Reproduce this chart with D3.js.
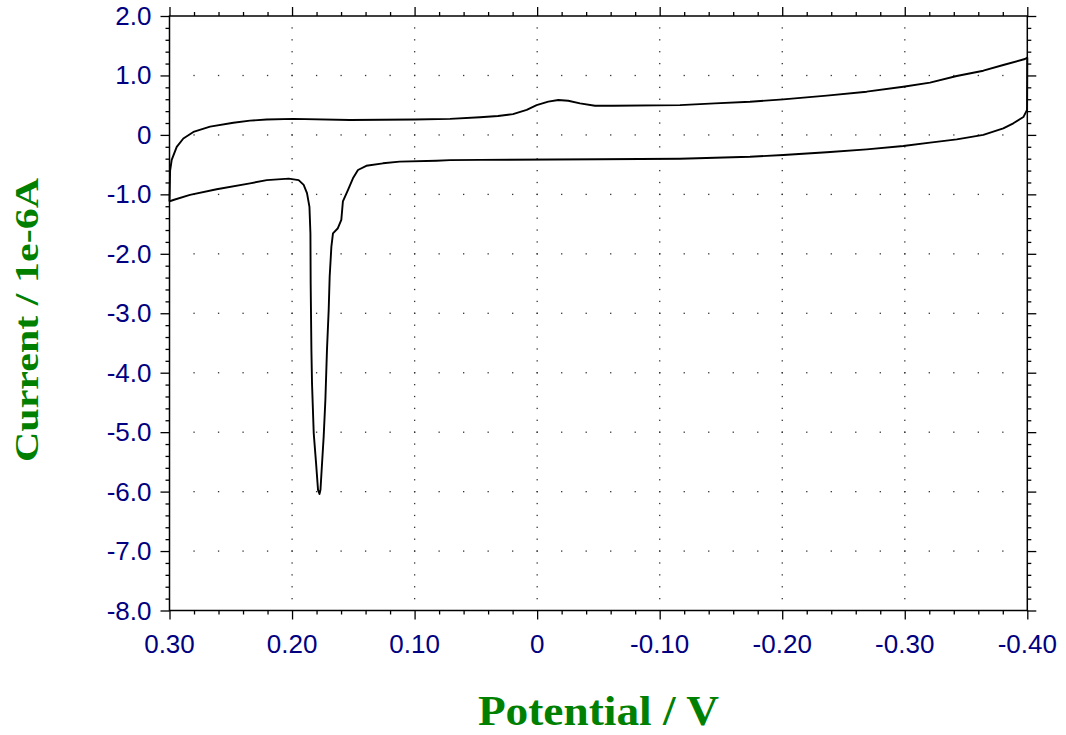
<!DOCTYPE html>
<html>
<head>
<meta charset="utf-8">
<script src="https://cdn.jsdelivr.net/npm/d3@7"></script>
<style>
  body { margin: 0; background: #fff; }
</style>
</head>
<body>
<div id="chart"></div>
<script>
// forward scan (0.30 V -> -0.40 V), [potential V, current 1e-6 A]
const forwardScan = [
  [0.3000, -1.12], [0.2995, -0.60], [0.2982, -0.42], [0.2941, -0.20],
  [0.2887, -0.06], [0.2805, 0.05], [0.2669, 0.14], [0.2479, 0.205],
  [0.2343, 0.24], [0.2207, 0.26], [0.1990, 0.27], [0.1527, 0.25],
  [0.1000, 0.26], [0.0711, 0.27], [0.0466, 0.296], [0.0319, 0.318],
  [0.0197, 0.35], [0.0085, 0.42], [0.0004, 0.50], [-0.0091, 0.56],
  [-0.0173, 0.587], [-0.0254, 0.575], [-0.0350, 0.53], [-0.0472, 0.49],
  [-0.0619, 0.49], [-0.1166, 0.50], [-0.1450, 0.53], [-0.1737, 0.558],
  [-0.2009, 0.598], [-0.2363, 0.66], [-0.2689, 0.727], [-0.2988, 0.81],
  [-0.3206, 0.88], [-0.3424, 0.99], [-0.3641, 1.08], [-0.3804, 1.176],
  [-0.3981, 1.277], [-0.4000, 1.30]
];

// reverse scan (-0.40 V -> 0.30 V) with the reduction peak
const reverseScan = [
  [-0.4000, 1.30], [-0.3998, 0.42], [-0.3968, 0.30], [-0.3886, 0.195],
  [-0.3804, 0.11], [-0.3641, 0.00], [-0.3424, -0.075], [-0.3206, -0.13],
  [-0.2988, -0.187], [-0.2690, -0.243], [-0.2363, -0.293], [-0.2009, -0.338],
  [-0.1737, -0.367], [-0.1166, -0.40], [-0.0511, -0.41], [0.0466, -0.42],
  [0.0711, -0.425], [0.0822, -0.434], [0.1122, -0.45], [0.1258, -0.478],
  [0.1394, -0.52], [0.1462, -0.59], [0.1503, -0.73], [0.1544, -0.93],
  [0.1585, -1.12], [0.1598, -1.43], [0.1626, -1.57], [0.1666, -1.655],
  [0.1679, -1.88], [0.1693, -2.385], [0.1701, -2.945], [0.1715, -3.62],
  [0.1728, -4.46], [0.1742, -5.08], [0.1755, -5.52], [0.1768, -5.97],
  [0.1776, -6.04], [0.1788, -5.97], [0.1804, -5.52], [0.1823, -5.02],
  [0.1837, -4.18], [0.1842, -3.62], [0.1848, -2.50], [0.1850, -1.655],
  [0.1858, -1.21], [0.1878, -0.98], [0.1905, -0.84], [0.1946, -0.76],
  [0.2027, -0.735], [0.2206, -0.76], [0.2343, -0.815], [0.2615, -0.915],
  [0.2833, -1.01], [0.2969, -1.095], [0.3000, -1.12]
];

const xTicks = [0.3, 0.2, 0.1, 0, -0.1, -0.2, -0.3, -0.4];
const xTickLabels = ["0.30", "0.20", "0.10", "0", "-0.10", "-0.20", "-0.30", "-0.40"];
const yTicks = [2, 1, 0, -1, -2, -3, -4, -5, -6, -7, -8];
const yTickLabels = ["2.0", "1.0", "0", "-1.0", "-2.0", "-3.0", "-4.0", "-5.0", "-6.0", "-7.0", "-8.0"];

const width = 1066, height = 735;
const plotLeft = 169.5, plotRight = 1027.3, plotTop = 16, plotBottom = 610.5;

const svg = d3
  .select("#chart")
  .append("svg")
  .attr("width", width)
  .attr("height", height);

// potential axis runs from positive to negative
const xScale = d3.scaleLinear().domain([0.3, -0.4]).range([plotLeft, plotRight]);
const yScale = d3.scaleLinear().domain([-8, 2]).range([plotBottom, plotTop]);

// minor tick positions
const xMinor = d3.range(0, 36).map((i) => +(0.3 - i * 0.02).toFixed(2));
const yMinor = d3.range(0, 51).map((i) => +(2 - i * 0.2).toFixed(1));

// dotted grid: dots at minor positions along each inner major line
const grid = svg.append("g").attr("fill", "#333");
xTicks.slice(1, -1).forEach((xv) => {
  grid
    .selectAll(null)
    .data(yMinor.slice(1, -1))
    .enter()
    .append("rect")
    .attr("x", xScale(xv) - 0.6)
    .attr("y", (d) => yScale(d) - 0.6)
    .attr("width", 1.3)
    .attr("height", 1.3);
});
yTicks.slice(1, -1).forEach((yv) => {
  grid
    .selectAll(null)
    .data(xMinor.slice(1, -1))
    .enter()
    .append("rect")
    .attr("x", (d) => xScale(d) - 0.6)
    .attr("y", yScale(yv) - 0.6)
    .attr("width", 1.3)
    .attr("height", 1.3);
});

// axes on all four sides, ticks pointing out
const axisStyle = (g) => {
  g.select(".domain").remove();
  g.selectAll("line").attr("stroke", "#000").attr("stroke-width", 1.3);
};
const minorOnly = (arr, major) => arr.filter((v) => !major.some((m) => Math.abs(m - v) < 1e-9));

[
  [d3.axisBottom, plotBottom],
  [d3.axisTop, plotTop],
].forEach(([ax, pos]) => {
  svg.append("g")
    .attr("transform", `translate(0,${pos})`)
    .call(ax(xScale).tickValues(xTicks).tickSize(9).tickFormat(""))
    .call(axisStyle);
  svg.append("g")
    .attr("transform", `translate(0,${pos})`)
    .call(ax(xScale).tickValues(minorOnly(xMinor, xTicks)).tickSize(4).tickFormat(""))
    .call(axisStyle);
});
[
  [d3.axisLeft, plotLeft],
  [d3.axisRight, plotRight],
].forEach(([ax, pos]) => {
  svg.append("g")
    .attr("transform", `translate(${pos},0)`)
    .call(ax(yScale).tickValues(yTicks).tickSize(9).tickFormat(""))
    .call(axisStyle);
  svg.append("g")
    .attr("transform", `translate(${pos},0)`)
    .call(ax(yScale).tickValues(minorOnly(yMinor, yTicks)).tickSize(4).tickFormat(""))
    .call(axisStyle);
});

// frame
svg
  .append("rect")
  .attr("x", plotLeft)
  .attr("y", plotTop)
  .attr("width", plotRight - plotLeft)
  .attr("height", plotBottom - plotTop)
  .attr("fill", "none")
  .attr("stroke", "#000")
  .attr("stroke-width", 1.5);

// tick labels
svg
  .selectAll(".x-label")
  .data(xTicks)
  .enter()
  .append("text")
  .attr("class", "x-label")
  .attr("x", (d) => xScale(d))
  .attr("y", plotBottom + 42)
  .attr("text-anchor", "middle")
  .attr("font-family", "Liberation Sans, Arial, sans-serif")
  .attr("font-size", 26)
  .attr("fill", "#000080")
  .text((d, i) => xTickLabels[i]);

svg
  .selectAll(".y-label")
  .data(yTicks)
  .enter()
  .append("text")
  .attr("class", "y-label")
  .attr("x", plotLeft - 18)
  .attr("y", (d) => yScale(d) + 9)
  .attr("text-anchor", "end")
  .attr("font-family", "Liberation Sans, Arial, sans-serif")
  .attr("font-size", 26)
  .attr("fill", "#000080")
  .text((d, i) => yTickLabels[i]);

// the voltammogram
const line = d3
  .line()
  .x((d) => xScale(d[0]))
  .y((d) => yScale(d[1]));

[forwardScan, reverseScan].forEach((scan) => {
  svg
    .append("path")
    .datum(scan)
    .attr("d", line)
    .attr("fill", "none")
    .attr("stroke", "#000")
    .attr("stroke-width", 1.9)
    .attr("stroke-linejoin", "round");
});

// axis titles
svg
  .append("text")
  .attr("x", (plotLeft + plotRight) / 2)
  .attr("y", 725)
  .attr("text-anchor", "middle")
  .attr("font-family", "Liberation Serif, Times New Roman, serif")
  .attr("font-weight", "bold")
  .attr("font-size", 42)
  .attr("fill", "#008000")
  .attr("textLength", 241)
  .attr("lengthAdjust", "spacingAndGlyphs")
  .text("Potential / V");

svg
  .append("text")
  .attr("transform", "translate(38,320) rotate(-90)")
  .attr("text-anchor", "middle")
  .attr("font-family", "Liberation Serif, Times New Roman, serif")
  .attr("font-weight", "bold")
  .attr("font-size", 34)
  .attr("fill", "#008000")
  .attr("textLength", 284)
  .attr("lengthAdjust", "spacingAndGlyphs")
  .text("Current / 1e-6A");
</script>
</body>
</html>
